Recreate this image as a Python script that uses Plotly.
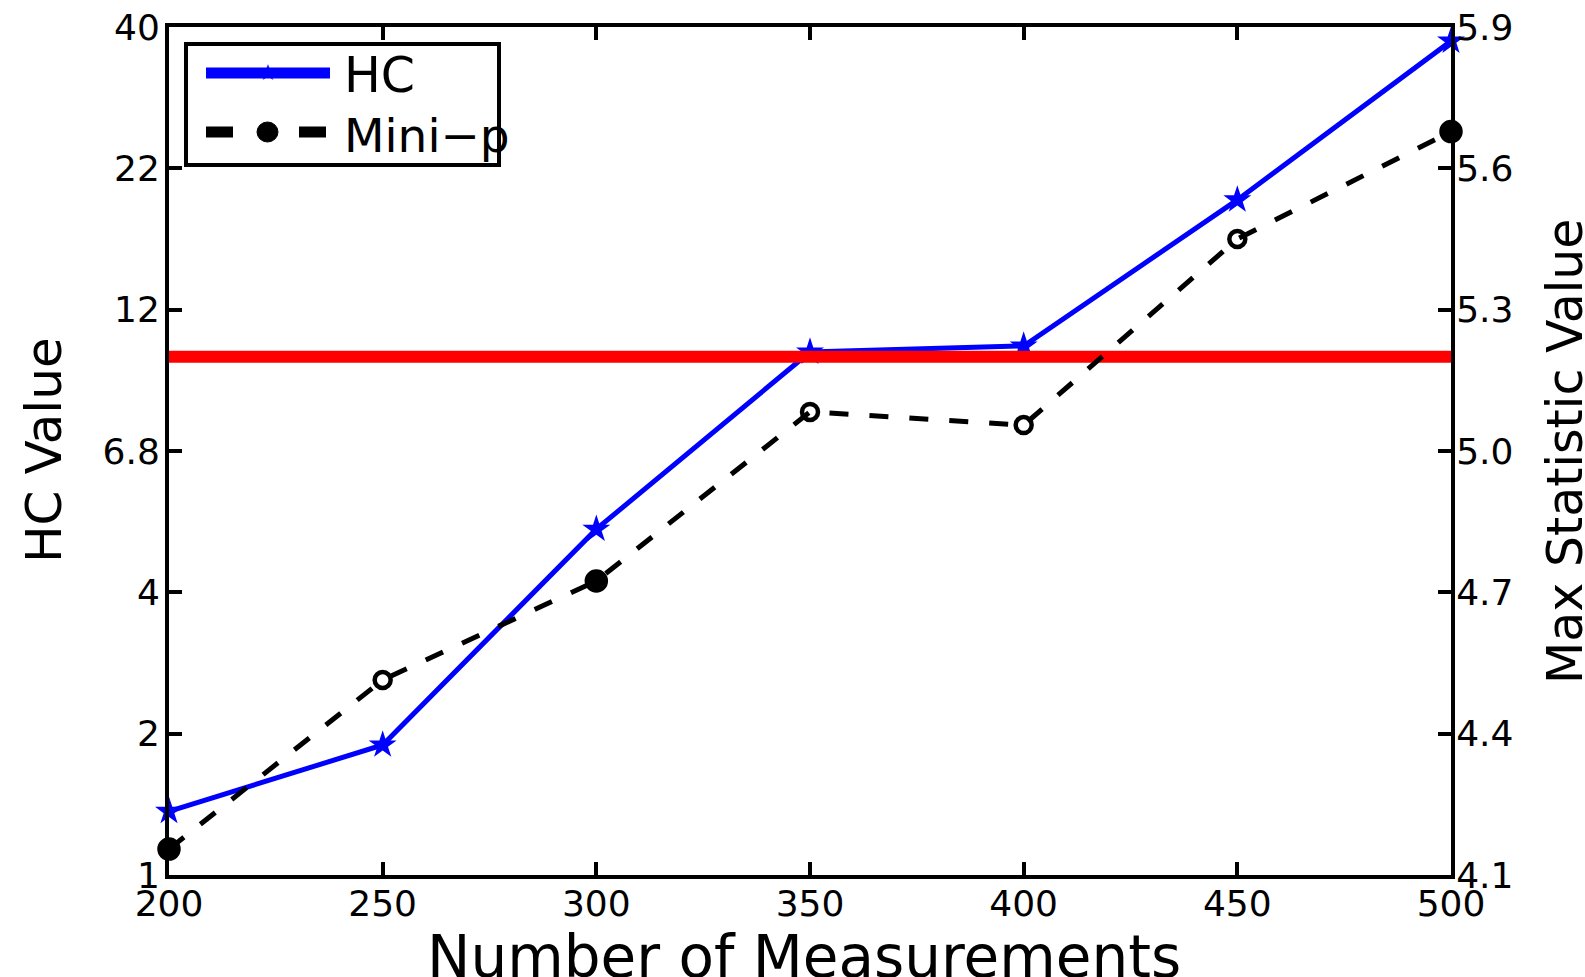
import plotly.graph_objects as go

# ---- data ----
measurements = [200, 250, 300, 350, 400, 450, 500]
hc_values = [4.235, 4.376, 4.834, 5.210, 5.223, 5.533, 5.870]
mini_p_values = [4.155, 4.514, 4.724, 5.083, 5.055, 5.450, 5.678]
threshold = 5.2

x_ticks = [200, 250, 300, 350, 400, 450, 500]
stat_ticks = [4.1, 4.4, 4.7, 5.0, 5.3, 5.6, 5.9]
stat_tick_labels = ["4.1", "4.4", "4.7", "5.0", "5.3", "5.6", "5.9"]
hc_tick_labels = ["1", "2", "4", "6.8", "12", "22", "40"]

# ---- styling ----
W, H = 1585, 977
PL, PR, PT, PB = 169, 1451, 27, 875          # plot-area edges in pixels
FONT = "DejaVu Sans"
BLUE, RED, BLACK = "#0000ff", "#ff0000", "#000000"
mini_symbols = ["circle", "circle-open", "circle", "circle-open",
                "circle-open", "circle-open", "circle"]
mini_sizes = [19, 16, 19, 16, 16, 16, 19]


def fx(px):
    return (px - PL) / (PR - PL)


def fy(py):
    return (PB - py) / (PB - PT)


fig = go.Figure()

# HC curve (left axis)
fig.add_trace(go.Scatter(
    x=measurements, y=hc_values, mode="lines+markers",
    line=dict(color=BLUE, width=5),
    marker=dict(symbol="star", size=21, color=BLUE, opacity=1,
                line=dict(width=0)),
    cliponaxis=False, showlegend=False))

# threshold line
fig.add_trace(go.Scatter(
    x=[measurements[0], measurements[-1]], y=[threshold, threshold],
    mode="lines", line=dict(color=RED, width=12),
    showlegend=False, yaxis="y2"))

# Mini-p curve
fig.add_trace(go.Scatter(
    x=measurements, y=mini_p_values, mode="lines+markers",
    line=dict(color=BLACK, width=5, dash="19px,21px"),
    marker=dict(symbol=mini_symbols, size=mini_sizes, color=BLACK,
                opacity=1, line=dict(color=BLACK, width=4.5)),
    cliponaxis=False, showlegend=False, yaxis="y2"))

tickfont = dict(family=FONT, size=36, color=BLACK)
axis_common = dict(showgrid=False, zeroline=False, showline=True,
                   linecolor=BLACK, linewidth=4, ticks="inside",
                   ticklen=13, tickwidth=3.5, tickcolor=BLACK,
                   tickfont=tickfont)

# hand-drawn legend box
legend_shapes = [
    dict(type="rect", xref="paper", yref="paper",
         x0=fx(186), x1=fx(499), y0=fy(44), y1=fy(165),
         line=dict(color=BLACK, width=4), fillcolor="rgba(0,0,0,0)",
         layer="above"),
    dict(type="line", xref="paper", yref="paper",
         x0=fx(206), x1=fx(330), y0=fy(73), y1=fy(73),
         line=dict(color=BLUE, width=11), layer="above"),
    dict(type="line", xref="paper", yref="paper",
         x0=fx(206), x1=fx(326), y0=fy(132), y1=fy(132),
         line=dict(color=BLACK, width=11, dash="27px,66px"), layer="above"),
    dict(type="circle", xref="paper", yref="paper",
         x0=fx(257), x1=fx(278), y0=fy(122), y1=fy(142),
         line=dict(color=BLACK, width=1), fillcolor=BLACK, layer="above"),
]

fig.update_layout(
    width=W, height=H,
    margin=dict(l=PL, r=W - PR, t=PT, b=H - PB, autoexpand=False),
    paper_bgcolor="white", plot_bgcolor="white",
    font=dict(family=FONT, color=BLACK),
    showlegend=False,
    xaxis=dict(range=[200, 500], tickvals=x_ticks,
               ticktext=[str(v) for v in x_ticks], mirror="ticks",
               ticklabelstandoff=-6, **axis_common),
    yaxis=dict(range=[stat_ticks[0], stat_ticks[-1]], tickvals=stat_ticks,
               ticktext=hc_tick_labels, side="left",
               ticklabelstandoff=-2, **axis_common),
    yaxis2=dict(range=[stat_ticks[0], stat_ticks[-1]], tickvals=stat_ticks,
                ticktext=stat_tick_labels, side="right", overlaying="y",
                ticklabelstandoff=-6, **axis_common),
    shapes=legend_shapes,
    annotations=[
        dict(text="\u2605", x=fx(268), y=fy(72), xref="paper", yref="paper",
             xanchor="center", yanchor="middle", showarrow=False,
             font=dict(family=FONT, size=22, color=BLUE)),
        dict(text="HC", x=fx(342), y=fy(76), xref="paper", yref="paper",
             xanchor="left", yanchor="middle", showarrow=False,
             font=dict(family=FONT, size=49, color=BLACK)),
        dict(text="Mini\u2212p", x=fx(342), y=fy(135), xref="paper",
             yref="paper", xanchor="left", yanchor="middle",
             showarrow=False, font=dict(family=FONT, size=47, color=BLACK)),
        dict(text="Number of Measurements", x=fx(804), y=fy(957),
             xref="paper", yref="paper", xanchor="center", yanchor="middle",
             showarrow=False, font=dict(family=FONT, size=58, color=BLACK)),
        dict(text="HC Value", x=fx(44), y=fy(450), xref="paper",
             yref="paper", xanchor="center", yanchor="middle", textangle=-90,
             showarrow=False, font=dict(family=FONT, size=50, color=BLACK)),
        dict(text="Max Statistic Value", x=fx(1566), y=fy(452),
             xref="paper", yref="paper", xanchor="center", yanchor="middle",
             textangle=-90, showarrow=False,
             font=dict(family=FONT, size=49, color=BLACK)),
    ],
)

fig.write_html("out.html")
